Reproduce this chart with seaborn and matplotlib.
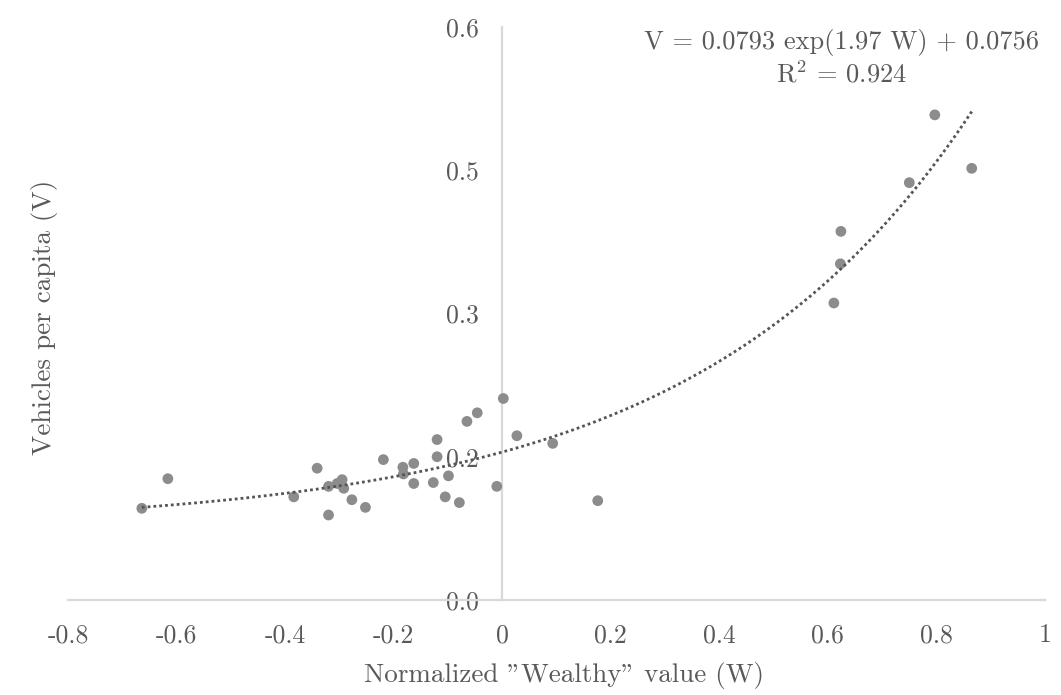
import numpy as np
import pandas as pd
import matplotlib
matplotlib.use("Agg")
import matplotlib.pyplot as plt
import seaborn as sns

# ---- data ----
wealthy = [-0.664, -0.616, -0.384, -0.341, -0.320, -0.304, -0.295, -0.292, -0.320,
           -0.277, -0.252, -0.219, -0.183, -0.182, -0.163, -0.163, -0.127, -0.120,
           -0.120, -0.099, -0.105, -0.079, -0.065, -0.046, 0.002, -0.010, 0.027,
           0.093, 0.176, 0.611, 0.623, 0.624, 0.750, 0.797, 0.865]
vehicles = [0.096, 0.127, 0.108, 0.138, 0.119, 0.122, 0.126, 0.117, 0.089,
            0.105, 0.097, 0.147, 0.139, 0.132, 0.143, 0.122, 0.123, 0.168,
            0.150, 0.130, 0.108, 0.102, 0.187, 0.196, 0.211, 0.119, 0.172,
            0.164, 0.104, 0.311, 0.352, 0.386, 0.437, 0.508, 0.452]

# trend line V = a*exp(b*W) + c (as stated on the chart)
fit_a, fit_b, fit_c = 0.0793, 1.97, 0.0756
eq_text = "V = 0.0793 exp(1.97 W) + 0.0756"
r2_text = r"R$^{2}$ = 0.924"

x_ticks = [-0.8, -0.6, -0.4, -0.2, 0.0, 0.2, 0.4, 0.6, 0.8, 1.0]
x_tick_labels = ["-0.8", "-0.6", "-0.4", "-0.2", "0", "0.2", "0.4", "0.6", "0.8", "1"]
y_ticks = [0.0, 0.15, 0.30, 0.45, 0.60]
y_tick_labels = ["0.0", "0.2", "0.3", "0.5", "0.6"]

x_label = 'Normalized "Wealthy" value (W)'
y_label = "Vehicles per capita (V)"

# ---- style ----
sns.set_theme(style="white")
plt.rcParams["font.family"] = ["cmr10", "DejaVu Serif"]
plt.rcParams["mathtext.fontset"] = "cm"
plt.rcParams["axes.formatter.use_mathtext"] = True
plt.rcParams["axes.unicode_minus"] = False

text_color = "#595959"
axis_color = "#d9d9d9"
dot_color = "#8c8c8c"
line_color = "#555555"

fig = plt.figure(figsize=(10.61, 6.95), dpi=100)
ax = fig.add_axes([68 / 1061, 1 - 600 / 695, (1045 - 68) / 1061, (600 - 27) / 695])

df = pd.DataFrame({"W": wealthy, "V": vehicles})
wfit = np.linspace(min(wealthy), max(wealthy), 300)
dfit = pd.DataFrame({"W": wfit, "V": fit_a * np.exp(fit_b * wfit) + fit_c})

sns.scatterplot(data=df, x="W", y="V", ax=ax, color=dot_color, s=60,
                edgecolor="none", zorder=3)
sns.lineplot(data=dfit, x="W", y="V", ax=ax, color=line_color, linewidth=2.0,
             zorder=4, sort=False)
ax.lines[-1].set_dashes((1, 1.1))

ax.set_xlim(-0.8, 1.0)
ax.set_ylim(0.0, 0.6)
ax.set_xticks(x_ticks)
ax.set_xticklabels(x_tick_labels)
ax.set_yticks(y_ticks)
ax.set_yticklabels(y_tick_labels)

for s in ["top", "right"]:
    ax.spines[s].set_visible(False)
ax.spines["left"].set_position(("data", 0))
ax.spines["bottom"].set_position(("data", 0))
for s in ["left", "bottom"]:
    ax.spines[s].set_color(axis_color)
    ax.spines[s].set_linewidth(1.6)
    ax.spines[s].set_zorder(1)

ax.tick_params(axis="x", length=0, pad=17, labelsize=18.5, labelcolor=text_color)
ax.tick_params(axis="y", length=0, pad=17, labelsize=18.5, labelcolor=text_color)

ax.set_xlabel(x_label, fontsize=19.5, color=text_color)
ax.set_ylabel(y_label, fontsize=19.5, color=text_color)
ax.xaxis.set_label_coords(0.508, -0.108)
ax.yaxis.set_label_coords(-0.010, 0.494)

ax.text(0.792, 0.997, eq_text + "\n" + r2_text, transform=ax.transAxes,
        ha="center", va="top", fontsize=19, color=text_color, linespacing=1.25,
        multialignment="center")

fig.savefig("out.png", dpi=100, facecolor="white")
